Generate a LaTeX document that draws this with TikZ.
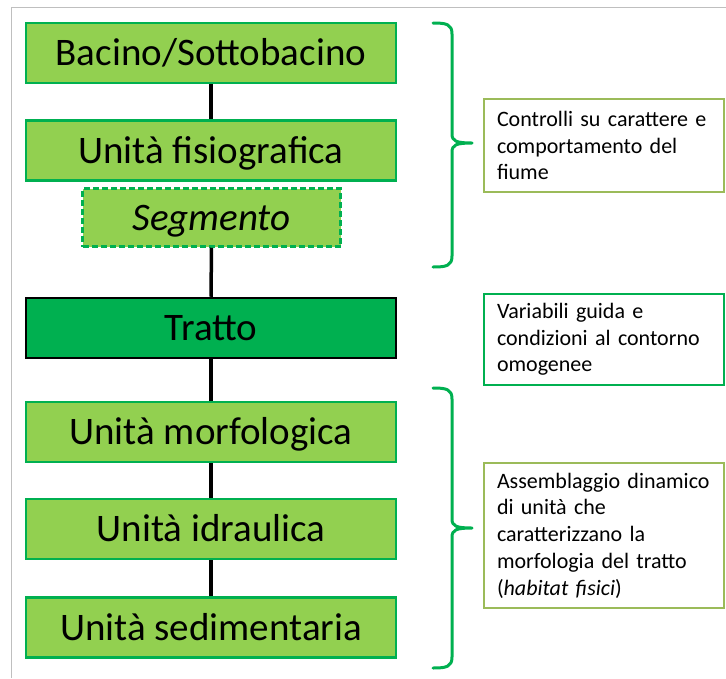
\documentclass[tikz,border=0pt]{standalone}
\usepackage{fontspec}
\setmainfont{Carlito}
\definecolor{lgreen}{HTML}{92D050}
\definecolor{dgreen}{HTML}{00B050}
\definecolor{olivegr}{HTML}{9BBB59}
\definecolor{framegray}{HTML}{BFBFBF}
\begin{document}
\begin{tikzpicture}[x=1pt,y=-1pt,
  level/.style={draw=dgreen, fill=lgreen, line width=2.5pt, minimum width=370pt,
    minimum height=60pt, inner sep=0pt, font=\fontsize{39}{41}\selectfont,
    text height=25pt, text depth=0pt},
  conn/.style={line width=3.5pt, black},
  note/.style={draw=#1, line width=2pt, fill=white, minimum width=240pt, inner xsep=12pt,
    inner ysep=0pt, text width=214pt, align=left,
    font=\fontsize{22}{26.7}\selectfont},
  brace/.style={draw=dgreen, line width=3pt, line join=round, line cap=round}]
\useasboundingbox (0,0) rectangle (726,678);
% frame
\draw[framegray, line width=1pt] (11,678) -- (11,7) -- (726,7);
% hierarchy
\node[level] (bacino) at (211,53) {Bacino/Sottobacino};
\node[level] (fisio) at (211,150.5) {Unità fisiografica};
\node[level, minimum width=258pt, minimum height=58pt, dash pattern=on 6pt off 3pt] (segm) at (211.5,217.5) {\itshape Segmento};
\node[level, draw=black, fill=dgreen] (tratto) at (211,328) {Tratto};
\node[level] (morf) at (211,432) {Unità morfologica};
\node[level] (idr) at (211,529) {Unità idraulica};
\node[level] (sed) at (211,627.5) {Unità sedimentaria};
\draw[conn] (bacino.south) -- (fisio.north);
\draw[conn] (segm.south) -- (tratto.north);
\draw[conn] (tratto.south) -- (morf.north);
\draw[conn] (morf.south) -- (idr.north);
\draw[conn] (idr.south) -- (sed.north);
% braces
\draw[brace] (433,23) .. controls (446,23) and (452,24) .. (452,34) -- (452,134)
  .. controls (452,141) and (456,143) .. (472,143)
  .. controls (456,143) and (452,145) .. (452,152) -- (452,256)
  .. controls (452,266) and (446,267) .. (433,267);
\draw[brace] (433,388) .. controls (446,388) and (452,389) .. (452,399) -- (452,519)
  .. controls (452,526) and (456,528) .. (472,528)
  .. controls (456,528) and (452,530) .. (452,537) -- (452,657)
  .. controls (452,667) and (446,668) .. (433,668);
% notes
\node[note=olivegr, minimum height=93pt] (noteA) at (604,145.5)
  {Controlli su carattere e\\comportamento del\\fiume};
\node[note=dgreen, minimum height=91pt] (noteB) at (604,339.5)
  {Variabili guida e\\condizioni al contorno\\omogenee};
\node[note=olivegr, minimum height=145pt] (noteC) at (604,535.5)
  {Assemblaggio dinamico\\di unità che\\caratterizzano la\\morfologia del tratto\\(\textit{habitat fisici})};
\end{tikzpicture}
\end{document}
